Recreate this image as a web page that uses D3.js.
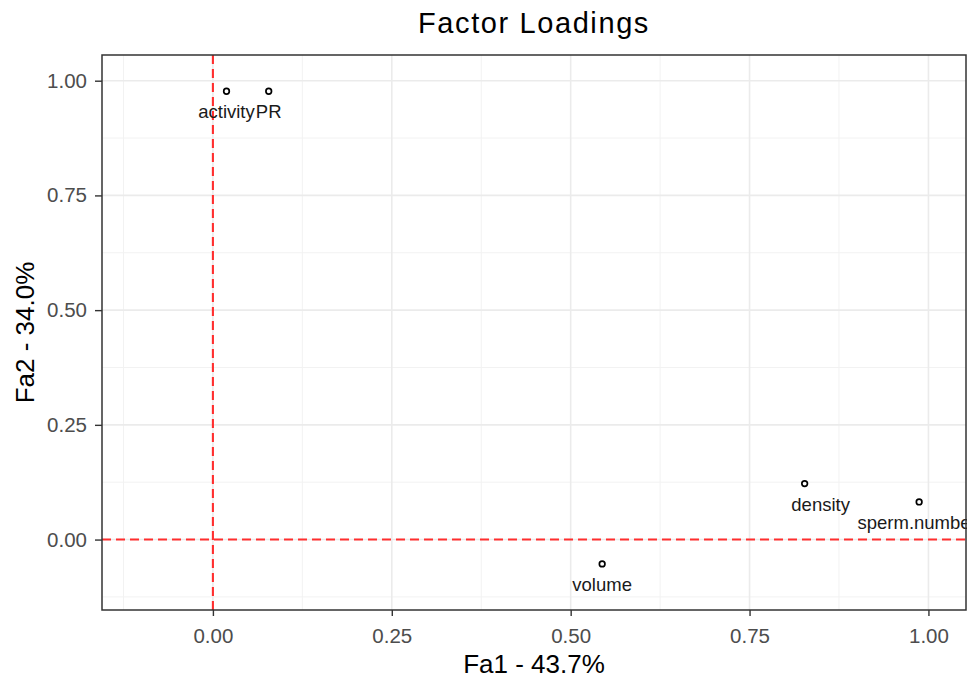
<!DOCTYPE html>
<meta charset="utf-8">
<style>
body { margin: 0; background: white; }
text { font-family: "Liberation Sans", Arial, sans-serif; }
.grid-major line { stroke: #ebebeb; stroke-width: 1.6px; }
.grid-minor line { stroke: #f2f2f2; stroke-width: 1px; }
.axis path { display: none; }
.axis line { stroke: #333; stroke-width: 1.4px; }
.axis text { fill: #4d4d4d; font-size: 20.5px; }
.refline { stroke: #ff2e2e; stroke-width: 2.1px; stroke-dasharray: 9 5; }
.point { fill: none; stroke: black; stroke-width: 1.7px; }
.label { fill: #1a1a1a; font-size: 18.5px; }
</style>
<body>
<script src="https://d3js.org/d3.v7.min.js"></script>
<script>

// loadings
var variables = ["activity", "PR", "density", "sperm.number", "volume"];
var fa1 = [0.019, 0.078, 0.827, 0.987, 0.544];
var fa2 = [0.977, 0.977, 0.122, 0.082, -0.053];
var xTicks = [0, 0.25, 0.5, 0.75, 1.0];
var yTicks = [0, 0.25, 0.5, 0.75, 1.0];

var width = 967, height = 679;
var margin = {top: 55, right: 1, bottom: 69, left: 102};
var w = width - margin.left - margin.right,
    h = height - margin.top - margin.bottom;

var x = d3.scaleLinear().domain([-0.155, 1.0525]).range([0, w]);
var y = d3.scaleLinear().domain([-0.1535, 1.056]).range([h, 0]);

var svg = d3.select("body").append("svg")
    .attr("width", width)
    .attr("height", height);

var g = svg.append("g")
    .attr("transform", "translate(" + margin.left + "," + margin.top + ")");

// minor grid
var xMinor = [-0.125, 0.125, 0.375, 0.625, 0.875];
var yMinor = [-0.125, 0.125, 0.375, 0.625, 0.875];
var minor = g.append("g").attr("class", "grid-minor");
minor.selectAll(".vx").data(xMinor).enter().append("line")
    .attr("x1", d => x(d)).attr("x2", d => x(d)).attr("y1", 0).attr("y2", h);
minor.selectAll(".hy").data(yMinor).enter().append("line")
    .attr("y1", d => y(d)).attr("y2", d => y(d)).attr("x1", 0).attr("x2", w);

// major grid
var major = g.append("g").attr("class", "grid-major");
major.selectAll(".vx").data(xTicks).enter().append("line")
    .attr("x1", d => x(d)).attr("x2", d => x(d)).attr("y1", 0).attr("y2", h);
major.selectAll(".hy").data(yTicks).enter().append("line")
    .attr("y1", d => y(d)).attr("y2", d => y(d)).attr("x1", 0).attr("x2", w);

// reference lines at zero
g.append("line").attr("class", "refline")
    .attr("x1", x(0)).attr("x2", x(0)).attr("y1", 0).attr("y2", h);
g.append("line").attr("class", "refline")
    .attr("x1", 0).attr("x2", w).attr("y1", y(0)).attr("y2", y(0));

var data = variables.map(function(v, i) {
  return {name: v, x: fa1[i], y: fa2[i]};
});

// points
g.selectAll(".point").data(data).enter().append("circle")
    .attr("class", "point")
    .attr("cx", d => x(d.x))
    .attr("cy", d => y(d.y))
    .attr("r", 2.8);

// labels under the points (density got pushed right by the repel)
g.selectAll(".label").data(data).enter().append("text")
    .attr("class", "label")
    .attr("x", d => x(d.x) + (d.name == "density" ? 16 : (d.name == "sperm.number" ? -2 : 0)))
    .attr("y", d => y(d.y) + 27)
    .attr("text-anchor", "middle")
    .text(d => d.name);

// panel border
g.append("rect")
    .attr("width", w).attr("height", h)
    .attr("fill", "none")
    .attr("stroke", "#333")
    .attr("stroke-width", 1.5);

// axes
g.append("g")
    .attr("class", "axis")
    .attr("transform", "translate(0," + h + ")")
    .call(d3.axisBottom(x).tickValues(xTicks).tickFormat(d3.format(".2f")).tickSizeInner(6).tickPadding(12));

g.append("g")
    .attr("class", "axis")
    .call(d3.axisLeft(y).tickValues(yTicks).tickFormat(d3.format(".2f")).tickSizeInner(7).tickPadding(8));

// titles
svg.append("text")
    .attr("x", 534)
    .attr("y", 33)
    .attr("text-anchor", "middle")
    .style("font-size", "29px")
    .style("letter-spacing", "1.6px")
    .attr("fill", "black")
    .text("Factor Loadings");

svg.append("text")
    .attr("x", 534)
    .attr("y", 673)
    .attr("text-anchor", "middle")
    .style("font-size", "26px")
    .attr("fill", "black")
    .text("Fa1 - 43.7%");

svg.append("text")
    .attr("transform", "translate(34," + (margin.top + h / 2) + ") rotate(-90)")
    .attr("text-anchor", "middle")
    .style("font-size", "26px")
    .attr("fill", "black")
    .text("Fa2 - 34.0%");

</script>
</body>
